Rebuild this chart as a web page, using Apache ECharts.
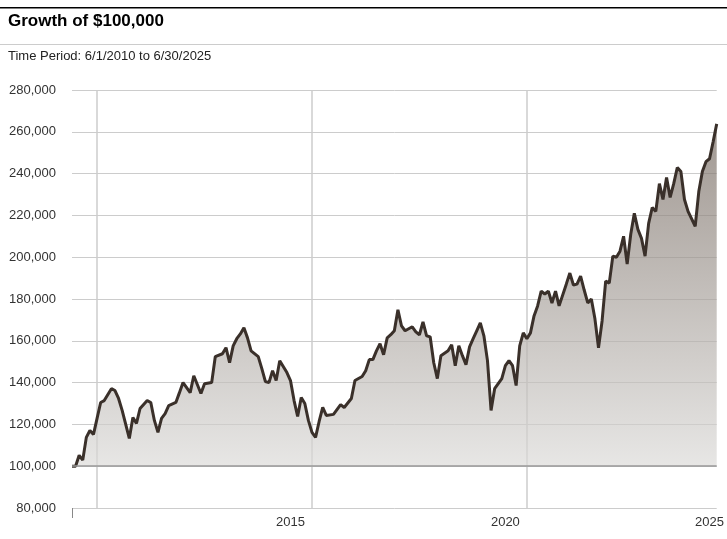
<!DOCTYPE html>
<html><head><meta charset="utf-8">
<script src="https://cdn.jsdelivr.net/npm/echarts@6/dist/echarts.min.js"></script>
<style>html,body{margin:0;padding:0;background:#fff}#c{width:727px;height:539px}</style>
</head><body><div id="c"></div>
<script>
const startYear = 2010, startMonth = 6, monthCount = 181;
const pointIdx = [0,1,2,3,4,5,6,7,8,9,11,12,13,14,16,17,18,19,21,22,23,24,25,26,27,29,30,31,33,34,36,37,39,40,42,43,44,45,46,47,48,49,50,52,53,54,55,56,57,58,60,61,62,63,64,65,66,67,68,69,70,71,73,75,76,78,79,81,82,83,84,85,86,87,88,89,90,91,92,93,95,96,97,98,99,100,101,102,103,105,106,107,108,109,110,111,112,113,114,115,116,117,118,120,121,122,123,124,125,126,127,128,129,130,131,132,133,134,135,136,138,139,140,141,142,143,144,145,146,147,148,149,150,151,152,153,154,155,156,157,158,159,160,161,162,163,164,165,166,167,168,169,170,171,172,174,175,176,177,178,179,180];
const pointValK = [100,100,105.2,102.9,113.8,117.1,115.2,122.9,130.5,131.4,137.1,136.2,132.4,126.7,113.3,123.3,120.5,127.6,131.4,130.5,121.9,116.2,122.9,125.2,129,130.5,135.2,140,135.2,143.3,134.8,139.5,140,152.4,153.8,156.7,149.5,157.6,161,163.3,166.2,161.4,155.2,152.4,146.7,140.5,140,145.7,141,150.5,144.8,141,131.4,123.8,132.9,130,121.9,116.2,113.8,121.4,128.1,124.3,124.8,129.5,128.1,132.4,141,142.9,145.7,151,151,155.2,158.6,153.3,161.4,162.9,164.8,174.8,167.1,164.8,166.7,164.3,162.9,169,162.4,161.9,149.5,141.9,152.9,155.2,158.1,148.1,157.6,152.9,148.6,157.1,161,164.8,168.6,162.4,150.5,126.7,137.1,141.9,148.1,150.5,148.1,138.6,157.6,163.8,161,163.8,171.9,176.7,183.8,182.4,183.8,178.1,183.8,176.7,187.1,192.4,186.7,187.1,191,184.3,178.1,180,170.5,156.7,169.5,188.6,187.6,200.5,200,202.9,210,196.7,211,221,213.3,209,200.5,216.2,223.8,221.9,235.2,227.6,238.1,228.6,235.2,242.9,241,227.6,221.9,214.8,231.4,241,245.7,247.1,255.2,263.8];
const yTicks = [80000,100000,120000,140000,160000,180000,200000,220000,240000,260000,280000];
const xLabels = {61:'2015', 121:'2020', 178:'2025'};
const gridMonths = [7,67,127];

const cats = [];
for (let i=0;i<monthCount;i++){const m=startMonth-1+i;cats.push((startYear+Math.floor(m/12))+'-'+String(m%12+1).padStart(2,'0'));}
const vals = new Array(monthCount).fill(null);
pointIdx.forEach((ix,k)=>{vals[ix]=pointValK[k]*1000;});

const F = "'Liberation Sans Narrow','Arial Narrow','Liberation Sans',sans-serif";
const chart = echarts.init(document.getElementById('c'));
chart.setOption({
  animation:false,
  graphic:[
    {type:'rect',shape:{x:0,y:7,width:727,height:1.5},style:{fill:'#000'}},
    {type:'text',left:8,top:13,style:{text:'Growth of $100,000',font:"bold 17px "+F,fill:'#000'}},
    {type:'rect',shape:{x:0,y:44,width:727,height:1},style:{fill:'#ccc'}},
    {type:'text',left:8,top:50,style:{text:'Time Period: 6/1/2010 to 6/30/2025',font:"13px "+F,fill:'#222'}}
  ],
  grid:{left:72,right:7,top:90,bottom:31},
  xAxis:{type:'category',data:cats,boundaryGap:false,
    axisLine:{show:false},
    axisTick:{show:true,interval:(i)=>i===0,length:10,lineStyle:{color:'#888'}},
    axisLabel:{interval:(i)=>i in xLabels,formatter:(v,i)=>xLabels[i]||'',color:'#333',fontFamily:F,fontSize:13,margin:8},
    splitLine:{show:true,interval:(i)=>gridMonths.includes(i),lineStyle:{color:'#ccc',width:1.5}}},
  yAxis:{type:'value',min:yTicks[0],max:yTicks[yTicks.length-1],interval:20000,
    axisLine:{show:false},axisTick:{show:false},
    axisLabel:{formatter:v=>v.toLocaleString('en-US'),color:'#333',fontFamily:F,fontSize:13,margin:16},
    splitLine:{lineStyle:{color:'#ccc',width:1}}},
  series:[{type:'line',data:vals,connectNulls:true,showSymbol:false,symbol:'none',
    lineStyle:{color:'#3a302a',width:3},
    areaStyle:{origin:100000,color:new echarts.graphic.LinearGradient(0,0,0,1,[{offset:0,color:'#776b62'},{offset:1,color:'#dcdbd9'}])},
    markLine:{silent:true,symbol:'none',label:{show:false},lineStyle:{color:'#999',width:1.5,type:'solid'},data:[{yAxis:100000}]},
    z:3}]
});
</script></body></html>
